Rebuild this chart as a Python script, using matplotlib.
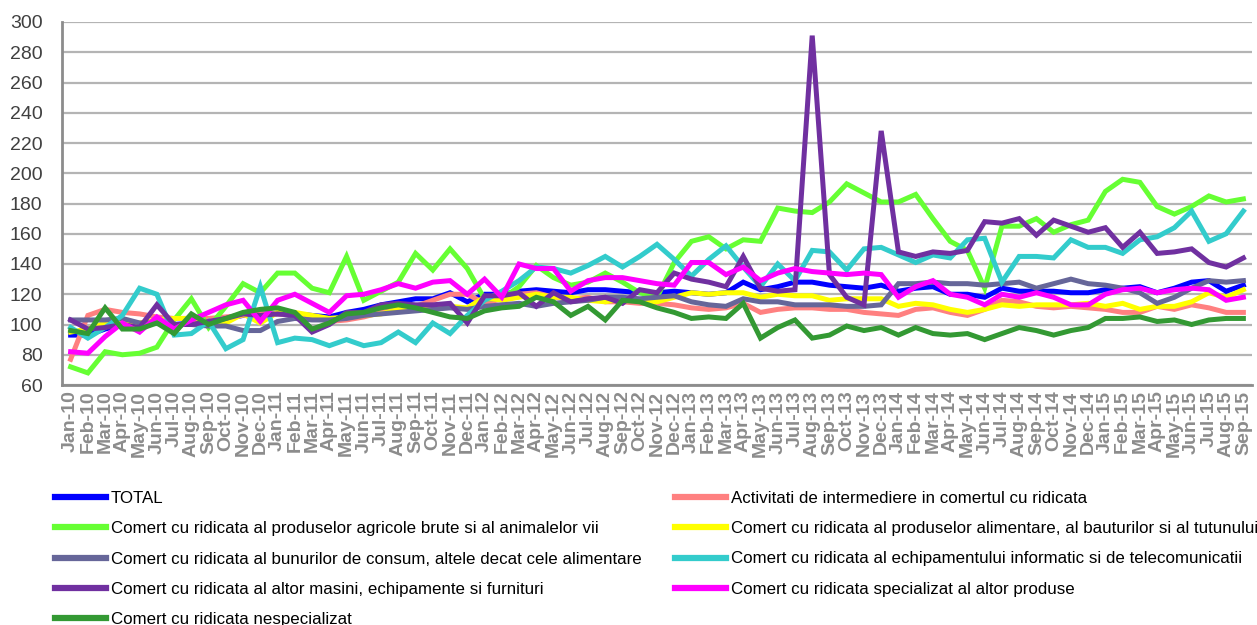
import matplotlib
matplotlib.use("Agg")
import matplotlib.pyplot as plt
from matplotlib.lines import Line2D

months = ["Jan", "Feb", "Mar", "Apr", "May", "Jun", "Jul", "Aug", "Sep", "Oct", "Nov", "Dec"]
labels = [f"{m}-{y}" for y in range(10, 16) for m in months][:69]

total = [93, 93, 97, 100, 100, 101, 100, 101, 102, 104, 106, 107,
         107, 107, 106, 105, 108, 110, 113, 115, 117, 117, 121, 115,
         120, 120, 122, 123, 122, 121, 123, 123, 122, 121, 121, 122,
         121, 120, 121, 128, 123, 125, 128, 128, 126, 125, 124, 126,
         122, 124, 125, 120, 120, 118, 124, 122, 122, 122, 121, 121,
         123, 124, 125, 121, 124, 128, 129, 122, 126]
intermediere = [77, 106, 110, 108, 107, 105, 104, 104, 104, 105, 106, 107,
                107, 106, 105, 102, 103, 105, 108, 110, 112, 116, 120, 120,
                114, 117, 120, 121, 118, 117, 118, 115, 115, 114, 114, 113,
                111, 110, 111, 114, 108, 110, 111, 111, 110, 110, 108, 107,
                106, 110, 111, 108, 106, 110, 116, 115, 112, 111, 112, 111,
                110, 108, 108, 112, 110, 113, 111, 108, 108]
agricole = [72, 68, 82, 80, 81, 85, 103, 117, 98, 112, 127, 121,
            134, 134, 124, 121, 145, 116, 122, 128, 147, 136, 150, 137,
            117, 117, 125, 139, 131, 126, 128, 134, 128, 121, 118, 141,
            155, 158, 150, 156, 155, 177, 175, 174, 181, 193, 187, 181,
            181, 186, 170, 155, 149, 124, 165, 165, 170, 161, 166, 169,
            188, 196, 194, 178, 173, 178, 185, 181, 183]
alimentare = [95, 97, 101, 102, 101, 103, 104, 104, 101, 101, 107, 101,
              108, 108, 106, 104, 105, 106, 107, 110, 110, 111, 112, 111,
              118, 116, 118, 120, 118, 118, 116, 115, 117, 116, 115, 118,
              121, 120, 121, 121, 118, 120, 119, 119, 116, 117, 117, 117,
              112, 114, 113, 110, 108, 110, 113, 112, 113, 113, 113, 114,
              112, 114, 110, 112, 112, 115, 121, 118, 123]
bunuri = [103, 103, 103, 104, 101, 101, 100, 100, 99, 99, 96, 96,
          102, 104, 103, 103, 104, 106, 107, 108, 109, 110, 111, 110,
          112, 113, 114, 112, 114, 115, 116, 118, 118, 117, 118, 119,
          115, 113, 112, 117, 115, 115, 113, 113, 113, 112, 112, 113,
          127, 127, 128, 127, 127, 126, 127, 128, 124, 127, 130, 127,
          126, 124, 121, 114, 118, 124, 129, 128, 129]
echipament = [98, 91, 98, 106, 124, 120, 93, 94, 102, 84, 90, 125,
              88, 91, 90, 86, 90, 86, 88, 95, 88, 101, 94, 106,
              116, 122, 129, 138, 137, 134, 139, 145, 138, 145, 153, 143,
              132, 143, 152, 138, 125, 140, 129, 149, 148, 136, 150, 151,
              146, 141, 146, 144, 156, 157, 128, 145, 145, 144, 156, 151,
              151, 147, 156, 158, 164, 175, 155, 160, 175]
masini = [103, 97, 98, 100, 98, 113, 100, 100, 102, 104, 107, 106,
          107, 106, 95, 100, 108, 108, 113, 114, 113, 113, 114, 101,
          119, 119, 121, 112, 121, 115, 117, 118, 114, 123, 121, 134,
          130, 128, 125, 145, 124, 122, 123, 291, 133, 118, 113, 228,
          148, 145, 148, 147, 149, 168, 167, 170, 159, 169, 165, 161,
          164, 151, 161, 147, 148, 150, 141, 138, 144]
specializat = [82, 81, 92, 101, 95, 105, 97, 103, 108, 113, 116, 102,
               116, 120, 114, 108, 119, 120, 123, 127, 124, 128, 129, 120,
               130, 118, 140, 137, 137, 122, 129, 131, 131, 129, 127, 126,
               141, 141, 133, 138, 129, 134, 137, 135, 134, 133, 134, 133,
               118, 125, 129, 120, 118, 113, 120, 118, 121, 118, 113, 113,
               120, 123, 124, 121, 123, 124, 123, 116, 118]
nespecializat = [96, 94, 111, 97, 97, 101, 94, 107, 100, 104, 108, 110,
                 111, 108, 97, 101, 107, 108, 111, 113, 111, 108, 105, 104,
                 109, 111, 112, 118, 115, 106, 112, 103, 116, 115, 111, 108,
                 104, 105, 104, 114, 91, 98, 103, 91, 93, 99, 96, 98,
                 93, 98, 94, 93, 94, 90, 94, 98, 96, 93, 96, 98,
                 104, 104, 105, 102, 103, 100, 103, 104, 104]

series_names = [
    "TOTAL",
    "Activitati de intermediere in comertul cu ridicata",
    "Comert cu ridicata al produselor agricole brute si al animalelor vii",
    "Comert cu ridicata al produselor alimentare, al bauturilor si al tutunului",
    "Comert cu ridicata al bunurilor de consum, altele decat cele alimentare",
    "Comert cu ridicata al echipamentului informatic si de telecomunicatii",
    "Comert cu ridicata al altor masini, echipamente si furnituri",
    "Comert cu ridicata specializat al altor produse",
    "Comert cu ridicata nespecializat",
]
series_values = [total, intermediere, agricole, alimentare, bunuri,
                 echipament, masini, specializat, nespecializat]
colors = ["#0000ff", "#ff8080", "#66ff33", "#ffff00", "#666699",
          "#33cccc", "#7030a0", "#ff00ff", "#339933"]

plt.rcParams['font.family'] = ['Liberation Sans', 'DejaVu Sans']

fig = plt.figure(figsize=(12.57, 6.25), dpi=100)
ax = fig.add_axes([62 / 1257, 1 - 385 / 625, (1252 - 62) / 1257, (385 - 22) / 625])

x = list(range(len(labels)))
for name, vals, c in zip(series_names, series_values, colors):
    ax.plot(x, vals, color=c, lw=3.6, solid_joinstyle='miter', label=name, zorder=3)

ax.set_xlim(-0.5, len(labels) - 0.5)
ax.set_ylim(60, 300)
ax.set_yticks(range(60, 301, 20))
ax.set_xticks(x)
ax.set_xticklabels(labels, rotation=90, fontsize=14, fontweight='bold', color='#8c8c8c')
ax.tick_params(axis='x', length=0, pad=4)
ax.tick_params(axis='y', length=0, labelsize=14, labelcolor='#404040', pad=14)
ax.yaxis.grid(True, color='#b4b4b4', lw=1.6, zorder=0)
ax.set_axisbelow(True)
for s in ['top', 'right']:
    ax.spines[s].set_visible(False)
for s in ['left', 'bottom']:
    ax.spines[s].set_color('#8c8c8c')
    ax.spines[s].set_linewidth(2)

def mk(i):
    return Line2D([0], [0], color=colors[i], lw=4.5)

left_idx = [0, 2, 4, 6, 8]
right_idx = [1, 3, 5, 7]
kw = dict(frameon=False, fontsize=12.2, handlelength=3.0, handletextpad=0.3,
          labelspacing=0.9, borderaxespad=0, borderpad=0)
leg1 = fig.legend([mk(i) for i in left_idx], [series_names[i] for i in left_idx],
                  loc='upper left', bbox_to_anchor=(55 / 1257, 1 - 491 / 625), **kw)
leg2 = fig.legend([mk(i) for i in right_idx], [series_names[i] for i in right_idx],
                  loc='upper left', bbox_to_anchor=(675 / 1257, 1 - 491 / 625), **kw)

fig.savefig("out.png", dpi=100)
